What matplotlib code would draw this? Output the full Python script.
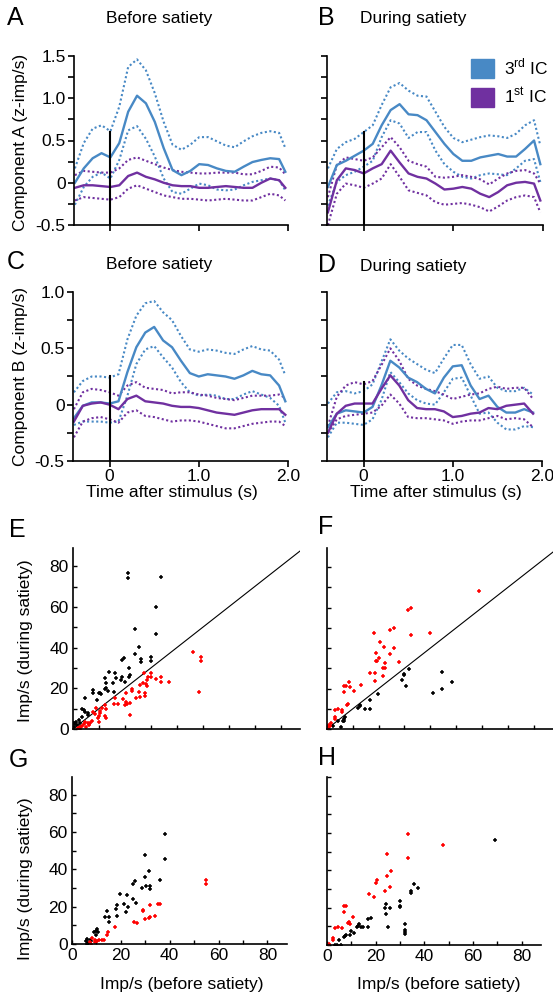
import matplotlib.pyplot as plt
from matplotlib.patches import Patch
from matplotlib.ticker import MultipleLocator, FixedLocator, FixedFormatter

plt.rcParams['font.family'] = ['Liberation Sans', 'DejaVu Sans']
plt.rcParams['mathtext.fontset'] = 'custom'
plt.rcParams['mathtext.rm'] = 'Liberation Sans'

W, H = 553, 993
BLUE = '#4889c5'
PURPLE = '#7030a0'

# time grids (s)
t_abc = [-0.4, -0.3, -0.2, -0.1, 0, 0.1, 0.2, 0.3, 0.4, 0.5, 0.6, 0.7, 0.8, 0.9,
         1.0, 1.1, 1.2, 1.3, 1.4, 1.5, 1.6, 1.7, 1.8, 1.9, 1.97]
t_d = t_abc[:-1]

# A: component A, before satiety
a_ic3 = [0.0, 0.17, 0.29, 0.35, 0.30, 0.47, 0.84, 1.03, 0.94, 0.72, 0.41, 0.15, 0.09,
         0.14, 0.22, 0.21, 0.17, 0.14, 0.13, 0.19, 0.245, 0.27, 0.29, 0.28, 0.13]
a_ic3_hi = [0.17, 0.47, 0.64, 0.68, 0.61, 0.90, 1.37, 1.46, 1.33, 1.06, 0.72, 0.45, 0.39,
            0.45, 0.54, 0.54, 0.49, 0.44, 0.42, 0.49, 0.55, 0.59, 0.61, 0.59, 0.41]
a_ic3_lo = [-0.26, -0.05, 0.07, 0.12, 0.05, 0.27, 0.62, 0.67, 0.52, 0.31, 0.05, -0.11, -0.13,
            -0.07, -0.01, -0.03, -0.08, -0.09, -0.08, -0.03, 0.01, 0.03, 0.05, 0.03, -0.09]
a_ic1 = [-0.06, -0.03, -0.03, -0.04, -0.05, -0.03, 0.08, 0.12, 0.07, 0.04, 0.0, -0.03, -0.04,
         -0.04, -0.06, -0.06, -0.05, -0.04, -0.05, -0.06, -0.06, 0.0, 0.05, 0.03, -0.06]
a_ic1_hi = [0.09, 0.14, 0.13, 0.12, 0.12, 0.17, 0.27, 0.30, 0.26, 0.22, 0.18, 0.15, 0.13,
            0.12, 0.11, 0.11, 0.12, 0.12, 0.12, 0.10, 0.10, 0.14, 0.19, 0.18, 0.10]
a_ic1_lo = [-0.21, -0.17, -0.18, -0.19, -0.20, -0.17, -0.07, -0.03, -0.07, -0.11, -0.15, -0.17, -0.19,
            -0.19, -0.20, -0.21, -0.20, -0.19, -0.20, -0.21, -0.21, -0.17, -0.13, -0.15, -0.21]

# B: component A, during satiety
b_ic3 = [-0.05, 0.21, 0.26, 0.32, 0.38, 0.46, 0.68, 0.86, 0.93, 0.81, 0.80, 0.74, 0.60,
         0.46, 0.34, 0.26, 0.26, 0.30, 0.32, 0.34, 0.31, 0.31, 0.40, 0.50, 0.22]
b_ic3_hi = [0.17, 0.40, 0.48, 0.52, 0.60, 0.68, 0.92, 1.13, 1.18, 1.09, 1.03, 1.02, 0.84,
            0.66, 0.53, 0.48, 0.51, 0.54, 0.56, 0.55, 0.53, 0.58, 0.68, 0.74, 0.44]
b_ic3_lo = [-0.27, 0.01, 0.09, 0.13, 0.19, 0.26, 0.54, 0.74, 0.70, 0.53, 0.60, 0.60, 0.38,
            0.22, 0.13, 0.07, 0.05, 0.09, 0.11, 0.10, 0.09, 0.17, 0.26, 0.28, 0.01]
b_ic1 = [-0.35, 0.03, 0.17, 0.15, 0.11, 0.17, 0.22, 0.38, 0.24, 0.11, 0.07, 0.05, -0.01,
         -0.08, -0.07, -0.05, -0.07, -0.13, -0.17, -0.11, -0.03, 0.0, 0.01, -0.01, -0.21]
b_ic1_hi = [-0.17, 0.21, 0.30, 0.28, 0.26, 0.30, 0.42, 0.54, 0.42, 0.26, 0.22, 0.19, 0.07,
            0.06, 0.07, 0.09, 0.07, 0.04, -0.02, 0.05, 0.11, 0.14, 0.15, 0.11, -0.01]
b_ic1_lo = [-0.5, -0.13, -0.01, -0.03, -0.06, -0.01, 0.05, 0.22, 0.07, -0.09, -0.12, -0.15, -0.23,
            -0.26, -0.25, -0.24, -0.26, -0.29, -0.34, -0.28, -0.21, -0.17, -0.15, -0.17, -0.35]

# C: component B, before satiety
c_ic3 = [-0.12, -0.01, 0.02, 0.02, 0.01, 0.03, 0.29, 0.51, 0.64, 0.69, 0.57, 0.51, 0.39,
         0.28, 0.25, 0.27, 0.26, 0.25, 0.23, 0.26, 0.30, 0.27, 0.26, 0.17, 0.03]
c_ic3_hi = [0.11, 0.21, 0.25, 0.25, 0.24, 0.27, 0.58, 0.79, 0.90, 0.92, 0.82, 0.75, 0.61,
            0.49, 0.47, 0.49, 0.48, 0.46, 0.45, 0.49, 0.52, 0.49, 0.48, 0.40, 0.26]
c_ic3_lo = [-0.18, -0.15, -0.15, -0.15, -0.16, -0.15, 0.08, 0.36, 0.49, 0.52, 0.42, 0.33, 0.20,
            0.11, 0.08, 0.09, 0.08, 0.05, 0.05, 0.09, 0.12, 0.09, 0.06, -0.01, -0.16]
c_ic1 = [-0.15, -0.01, 0.01, 0.02, 0.0, -0.04, 0.05, 0.08, 0.03, 0.02, 0.01, -0.01, -0.02,
         -0.02, -0.03, -0.05, -0.07, -0.08, -0.09, -0.07, -0.05, -0.04, -0.04, -0.04, -0.09]
c_ic1_hi = [-0.04, 0.11, 0.14, 0.13, 0.11, 0.08, 0.17, 0.20, 0.15, 0.14, 0.13, 0.10, 0.11,
            0.11, 0.09, 0.08, 0.06, 0.05, 0.04, 0.06, 0.08, 0.08, 0.08, 0.09, 0.06]
c_ic1_lo = [-0.29, -0.15, -0.12, -0.11, -0.13, -0.16, -0.07, -0.05, -0.10, -0.11, -0.13, -0.15, -0.14,
            -0.14, -0.15, -0.17, -0.19, -0.21, -0.21, -0.19, -0.17, -0.16, -0.15, -0.15, -0.19]

# D: component B, during satiety
d_ic3 = [-0.20, -0.08, -0.05, -0.06, -0.07, -0.02, 0.17, 0.39, 0.33, 0.24, 0.20, 0.14,
         0.10, 0.24, 0.34, 0.35, 0.17, 0.05, 0.08, -0.02, -0.07, -0.07, -0.04, -0.07]
d_ic3_hi = [0.01, 0.11, 0.12, 0.10, 0.12, 0.18, 0.38, 0.58, 0.48, 0.41, 0.36, 0.31,
            0.28, 0.41, 0.53, 0.53, 0.36, 0.23, 0.25, 0.15, 0.12, 0.12, 0.15, 0.09]
d_ic3_lo = [-0.29, -0.16, -0.16, -0.17, -0.18, -0.13, 0.04, 0.29, 0.20, 0.10, 0.04, 0.01,
            0.0, 0.11, 0.23, 0.24, 0.08, -0.08, -0.07, -0.16, -0.22, -0.22, -0.19, -0.20]
d_ic1 = [-0.25, -0.08, -0.01, 0.01, 0.01, 0.01, 0.14, 0.26, 0.17, 0.04, -0.03, -0.04,
         -0.04, -0.06, -0.11, -0.10, -0.08, -0.07, -0.03, -0.04, -0.01, 0.0, 0.01, -0.08]
d_ic1_hi = [-0.19, 0.07, 0.17, 0.20, 0.18, 0.21, 0.35, 0.50, 0.39, 0.23, 0.17, 0.14,
            0.12, 0.09, 0.05, 0.07, 0.09, 0.10, 0.14, 0.16, 0.14, 0.15, 0.15, 0.05]
d_ic1_lo = [-0.25, -0.13, -0.10, -0.09, -0.08, -0.07, -0.01, 0.09, 0.01, -0.11, -0.12, -0.12,
            -0.13, -0.14, -0.17, -0.15, -0.14, -0.14, -0.12, -0.10, -0.13, -0.12, -0.13, -0.20]

# E-H: imp/s before (x) vs during (y) satiety
e_black_x = [21.3, 21.3, 34.1, 32.1, 32.1, 23.8, 25.4, 23.8, 26.2, 26.2, 30.0, 30.0, 19.7, 19.0,
             21.5, 21.8, 21.4, 18.8, 18.6, 20.0, 16.3, 16.4, 13.7, 12.3, 12.6, 12.8, 12.2, 13.3,
             15.6, 15.8, 7.9, 7.7, 9.9, 10.5, 10.9, 9.4, 4.5, 3.5, 4.1, 4.7, 5.6, 2.2, 1.3, 0.3,
             0.8, 0.3, 1.5, 2.8, 3.5, 2.6, 5.8]
e_black_y = [76.7, 74.2, 74.5, 59.9, 46.6, 49.1, 40.2, 37.1, 34.6, 32.7, 35.6, 33.2, 35.0, 33.7,
             29.9, 26.6, 25.8, 25.8, 24.1, 23.3, 27.4, 25.3, 27.8, 25.0, 22.5, 20.0, 19.5, 18.9,
             22.5, 18.4, 19.2, 17.6, 17.6, 17.9, 17.1, 14.3, 15.4, 9.7, 9.4, 8.2, 8.0, 4.4, 3.6, 3.1,
             2.5, 1.1, 1.8, 2.8, 6.1, 1.1, 6.9]
e_red_x = [46.2, 49.2, 49.2, 48.5, 37.1, 34.1, 34.1, 32.1, 30.0, 30.0, 29.1, 28.5, 27.2, 26.9,
           28.2, 28.5, 25.9, 25.3, 25.9, 27.8, 27.8, 24.4, 22.8, 22.8, 20.5, 19.2, 20.3, 20.8,
           20.0, 21.8, 21.8, 17.2, 15.9, 16.2, 12.4, 12.8, 11.2, 10.5, 10.5, 12.2, 12.8, 9.9,
           9.6, 10.0, 7.9, 8.6, 6.7, 5.6, 4.7, 4.1, 3.5, 2.6, 1.8, 5.1, 2.8, 6.0, 7.4, 9.0]
e_red_y = [38.1, 35.6, 33.2, 18.1, 23.3, 25.5, 23.3, 24.6, 27.4, 25.8, 25.8, 24.1, 27.4, 22.8,
           22.2, 20.9, 21.7, 18.4, 15.9, 17.6, 16.3, 15.1, 19.5, 18.9, 17.6, 14.9, 13.5, 12.3,
           11.8, 12.6, 7.1, 12.3, 12.2, 15.4, 11.8, 9.7, 10.2, 9.0, 7.7, 6.4, 5.3, 6.4,
           5.3, 3.6, 8.5, 7.4, 3.1, 3.1, 3.6, 2.5, 1.5, 1.1, 0.7, 1.1, 0.2, 2.0, 3.9, 10.5]

f_black_x = [31.8, 30.0, 30.0, 29.0, 30.4, 44.6, 48.3, 44.6, 41.0, 19.9, 16.6, 16.6, 14.6, 12.9,
             11.9, 12.7, 6.9, 6.7, 6.2, 5.4, 4.4, 2.3, 6.5]
f_black_y = [29.8, 27.3, 26.5, 24.0, 21.4, 28.0, 23.4, 19.6, 17.6, 17.3, 14.3, 10.0, 10.0, 12.0,
             10.4, 11.2, 6.1, 5.1, 4.1, 1.2, 3.8, 1.6, 3.8]
f_red_x = [58.7, 31.3, 32.6, 24.3, 26.0, 18.2, 32.6, 40.0, 20.4, 22.1, 25.9, 18.9, 24.3, 20.2,
           18.9, 19.4, 22.5, 27.7, 21.7, 22.5, 21.7, 16.8, 18.4, 18.6, 13.2, 8.5, 6.5, 7.2, 8.9,
           10.3, 6.6, 8.0, 7.8, 3.1, 4.4, 6.0, 6.0, 3.1, 3.1, 1.4, 0.8, 0.5, 0.3, 1.0]
f_red_y = [68.3, 58.9, 60.0, 49.2, 50.0, 47.4, 46.7, 47.4, 42.8, 40.3, 40.1, 37.8, 37.2, 35.0,
           33.6, 33.4, 32.7, 33.1, 30.3, 30.3, 26.0, 27.5, 27.5, 23.5, 21.9, 23.2, 21.1, 21.1, 20.7,
           18.9, 18.1, 12.5, 12.0, 9.2, 9.9, 9.2, 8.2, 5.9, 4.9, 3.0, 2.0, 0.7, 0.2, 1.3]

g_black_x = [38.1, 38.1, 29.7, 31.4, 29.7, 36.0, 25.8, 25.0, 28.5, 30.1, 31.8, 31.8, 19.7, 22.5,
             25.0, 26.0, 21.4, 18.6, 23.1, 21.9, 18.1, 14.2, 13.6, 15.0, 18.3, 15.1, 10.3, 9.7,
             10.7, 10.0, 9.0, 6.1, 7.2, 5.6, 6.5, 7.9, 6.1]
g_black_y = [58.7, 45.6, 47.9, 39.0, 36.1, 34.5, 34.0, 32.4, 30.1, 31.3, 30.9, 29.3, 27.0, 26.5,
             24.2, 22.0, 21.3, 21.1, 19.9, 17.4, 18.6, 17.9, 14.7, 14.3, 14.8, 11.6, 8.1, 6.8,
             6.3, 5.0, 6.3, 2.7, 2.0, 1.4, 0.5, 1.4, 0.2]
g_red_x = [55.0, 55.0, 29.2, 28.9, 31.9, 35.0, 36.1, 33.9, 31.9, 31.7, 29.7, 25.3, 26.4, 17.6,
           14.9, 14.2, 13.1, 12.1, 11.1, 10.3, 9.3, 9.3, 7.5, 7.9, 8.3]
g_red_y = [34.5, 32.0, 18.4, 17.9, 21.1, 21.3, 21.3, 15.2, 14.5, 14.0, 13.6, 12.0, 11.4, 9.1,
           6.3, 5.0, 2.0, 2.1, 2.1, 1.4, 2.3, 1.1, 0.9, 0.2, 3.2]

h_black_x = [68.9, 35.6, 37.3, 34.6, 34.6, 30.2, 30.2, 30.2, 24.3, 23.8, 25.8, 24.3, 25.0, 31.9,
             31.9, 31.9, 31.9, 18.2, 17.0, 17.0, 13.9, 15.0, 13.2, 12.8, 12.2, 11.2, 9.8, 9.5,
             7.7, 7.1, 7.4, 5.1, 4.0, 5.7, 3.3]
h_black_y = [56.3, 32.7, 30.5, 29.1, 27.7, 23.8, 21.1, 20.5, 21.8, 19.6, 20.0, 16.6, 9.5, 11.1,
             8.0, 7.1, 5.7, 14.6, 13.9, 9.8, 9.8, 9.8, 11.3, 10.4, 9.8, 6.6, 7.5, 5.4,
             5.4, 4.5, 5.0, 2.7, 0.2, 0.2, 0.2]
h_red_x = [33.3, 47.9, 33.3, 24.8, 26.4, 24.8, 20.7, 20.0, 26.0, 23.8, 17.3, 19.3, 7.1, 7.9,
           7.1, 10.6, 9.1, 9.5, 8.7, 6.2, 4.7, 3.4, 2.6, 2.3, 0.9, 0.4]
h_red_y = [59.6, 53.4, 46.4, 48.9, 39.8, 37.0, 34.8, 33.0, 31.3, 29.1, 27.1, 25.5, 20.9, 20.9,
           17.7, 14.8, 12.5, 11.3, 11.8, 9.3, 9.8, 8.9, 3.8, 2.7, 0.5, 0.2]

TICK_FS = 12.5
LABEL_FS = 12.5


def box(left, right, top, bottom):
    return [left / W, 1 - bottom / H, (right - left) / W, (bottom - top) / H]


def ftext(x, y, s, **kw):
    fig.text(x / W, 1 - y / H, s, **kw)


fig = plt.figure(figsize=(W / 100, H / 100), dpi=100)


def trace_panel(rect, tt, ic3, ic3_hi, ic3_lo, ic1, ic1_hi, ic1_lo, ymin, ymax,
                stim_top, ylabels, xlabels):
    ax = fig.add_axes(rect)
    for hi, lo, col in [(ic3_hi, ic3_lo, BLUE), (ic1_hi, ic1_lo, PURPLE)]:
        ax.plot(tt, hi, color=col, lw=1.5, ls=(0, (1, 1.2)))
        ax.plot(tt, lo, color=col, lw=1.5, ls=(0, (1, 1.2)))
    ax.plot(tt, ic3, color=BLUE, lw=1.7, solid_joinstyle='round')
    ax.plot(tt, ic1, color=PURPLE, lw=1.7, solid_joinstyle='round')
    ax.plot([0, 0], [ymin, stim_top], color='black', lw=1.5)
    ax.set_xlim(-0.41, 2.0)
    ax.set_ylim(ymin, ymax)
    for s in ['top', 'right']:
        ax.spines[s].set_visible(False)
    for s in ['left', 'bottom']:
        ax.spines[s].set_linewidth(1.2)
    ax.xaxis.set_major_locator(FixedLocator([0, 1, 2]))
    ax.yaxis.set_major_locator(MultipleLocator(0.5))
    ax.yaxis.set_minor_locator(MultipleLocator(0.25))
    ax.tick_params(which='both', direction='out', length=4, width=1.2,
                   labelsize=TICK_FS, pad=2)
    if xlabels:
        ax.set_xticklabels(['0', '1.0', '2.0'])
    else:
        ax.set_xticklabels([])
    if ylabels:
        vals = ax.get_yticks()
        ax.yaxis.set_major_formatter(FixedFormatter(
            ['0' if abs(v) < 1e-9 else f'{v:.1f}' for v in vals]))
    else:
        ax.set_yticklabels([])
    return ax


def scatter_panel(rect, bx, by, rx, ry, xlim, ylim, xlabels, ylabels, diag):
    ax = fig.add_axes(rect)
    if diag:
        ax.plot([0, 100], [0, 100], color='black', lw=0.8)
    ax.plot(bx, by, ls='none', marker='+', ms=3, mew=1.1, color='black')
    ax.plot(rx, ry, ls='none', marker='+', ms=3, mew=1.1, color='red')
    ax.set_xlim(*xlim)
    ax.set_ylim(*ylim)
    for s in ['top', 'right']:
        ax.spines[s].set_visible(False)
    for s in ['left', 'bottom']:
        ax.spines[s].set_linewidth(1.2)
    ax.xaxis.set_major_locator(MultipleLocator(20))
    ax.xaxis.set_minor_locator(MultipleLocator(10))
    ax.yaxis.set_major_locator(MultipleLocator(20))
    ax.yaxis.set_minor_locator(MultipleLocator(10))
    ax.tick_params(which='both', direction='in', length=3, width=1.0,
                   labelsize=TICK_FS, pad=3)
    if not xlabels:
        ax.set_xticklabels([])
    if not ylabels:
        ax.set_yticklabels([])
    return ax


ax_a = trace_panel(box(74, 288, 56, 225), t_abc, a_ic3, a_ic3_hi, a_ic3_lo,
                   a_ic1, a_ic1_hi, a_ic1_lo, -0.5, 1.5, 0.6, True, False)
ax_b = trace_panel(box(327, 543, 56, 225), t_abc, b_ic3, b_ic3_hi, b_ic3_lo,
                   b_ic1, b_ic1_hi, b_ic1_lo, -0.5, 1.5, 0.6, False, False)
ax_c = trace_panel(box(73, 288, 292, 461), t_abc, c_ic3, c_ic3_hi, c_ic3_lo,
                   c_ic1, c_ic1_hi, c_ic1_lo, -0.5, 1.0, 0.25, True, True)
ax_d = trace_panel(box(327, 542, 292, 461), t_d, d_ic3, d_ic3_hi, d_ic3_lo,
                   d_ic1, d_ic1_hi, d_ic1_lo, -0.5, 1.0, 0.2, False, True)

ax_b.legend(handles=[Patch(color=BLUE), Patch(color=PURPLE)],
            labels=[r'3$^{\rm rd}$ IC', r'1$^{\rm st}$ IC'],
            loc='upper left', bbox_to_anchor=(471 / W, 1 - 57 / H),
            bbox_transform=fig.transFigure, frameon=False, fontsize=12.5,
            handlelength=1.35, handleheight=1.3, handletextpad=0.55,
            labelspacing=0.45, borderpad=0, borderaxespad=0)

scatter_panel(box(73, 300, 548, 729), e_black_x, e_black_y, e_red_x, e_red_y,
              (0, 87.5), (0, 89), False, True, True)
scatter_panel(box(327, 553, 548, 729), f_black_x, f_black_y, f_red_x, f_red_y,
              (0, 87.5), (0, 89.5), False, False, True)
scatter_panel(box(72, 287, 777, 944), g_black_x, g_black_y, g_red_x, g_red_y,
              (0, 88), (0, 89.5), True, True, False)
scatter_panel(box(327, 541, 777, 945), h_black_x, h_black_y, h_red_x, h_red_y,
              (0, 88), (0, 90), True, False, False)

# panel letters and titles
for x, y, s in [(7, 18, 'A'), (318, 18, 'B'), (7, 262, 'C'), (318, 265, 'D'),
                (9, 530, 'E'), (318, 527, 'F'), (9, 760, 'G'), (318, 758, 'H')]:
    ftext(x, y, s, fontsize=18, va='center', ha='left')
for x, y, s in [(159, 18, 'Before satiety'), (413, 18, 'During satiety'),
                (159, 265, 'Before satiety'), (413, 266, 'During satiety')]:
    ftext(x, y, s, fontsize=LABEL_FS, va='center', ha='center')

ftext(21, 142, 'Component A (z-imp/s)', fontsize=LABEL_FS, rotation=90, va='center', ha='center')
ftext(21, 377, 'Component B (z-imp/s)', fontsize=LABEL_FS, rotation=90, va='center', ha='center')
ftext(172, 493, 'Time after stimulus (s)', fontsize=LABEL_FS, va='center', ha='center')
ftext(436, 493, 'Time after stimulus (s)', fontsize=LABEL_FS, va='center', ha='center')
ftext(26, 641, 'Imp/s (during satiety)', fontsize=LABEL_FS, rotation=90, va='center', ha='center')
ftext(26, 879, 'Imp/s (during satiety)', fontsize=LABEL_FS, rotation=90, va='center', ha='center')
ftext(182, 985, 'Imp/s (before satiety)', fontsize=LABEL_FS, va='center', ha='center')
ftext(439, 985, 'Imp/s (before satiety)', fontsize=LABEL_FS, va='center', ha='center')

fig.savefig('out.png', dpi=100)
